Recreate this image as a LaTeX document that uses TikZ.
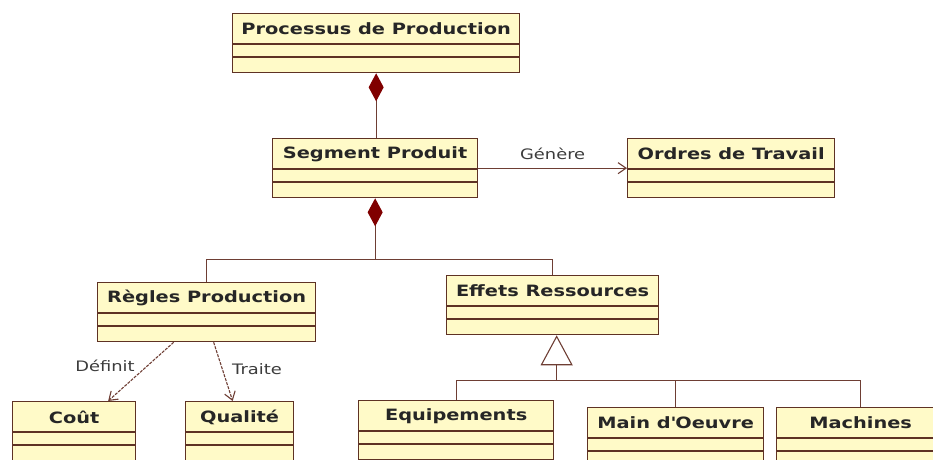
\documentclass[tikz,border=0pt]{standalone}
\usepackage{fontspec}
\setmainfont[FakeStretch=1.24]{DejaVu Sans}
\usetikzlibrary{arrows.meta,calc}

\definecolor{classfill}{RGB}{255,250,200}
\definecolor{classedge}{RGB}{94,50,36}
\definecolor{compred}{RGB}{128,0,0}
\definecolor{linkcol}{RGB}{110,62,52}
\definecolor{labelgray}{RGB}{60,60,60}

\tikzset{
  classbox/.style={draw=classedge, fill=classfill, line width=1.3pt, inner sep=0pt,
    anchor=north west, minimum height=59},
  classtitle/.style={font=\bfseries\fontsize{15.6}{17}\selectfont, text=black!85, inner sep=0pt},
  rowline/.style={draw=classedge, line width=1.2pt},
  link/.style={draw=linkcol, line width=1.1pt},
  dep/.style={link, dash pattern=on 3pt off 1.2pt, -{Straight Barb[length=8pt,width=11pt]}},
  linklabel/.style={font=\fontsize{14.4}{16}\selectfont, text=labelgray, inner sep=1pt},
}

% class box: name, north west corner, width, title
\newcommand{\umlclass}[4]{%
  \node[classbox, minimum width=#3] (#1) at #2 {};
  \node[classtitle] (#1-title) at ($(#1.north)+(0,16)$) {#4};
  \draw[rowline] ($(#1.north west)+(0,31)$) -- ($(#1.north east)+(0,31)$);
  \draw[rowline] ($(#1.north west)+(0,44)$) -- ($(#1.north east)+(0,44)$);
}

\begin{document}
\begin{tikzpicture}[x=1pt, y=-1pt]
  \useasboundingbox (0,0) rectangle (933,459);
  \clip (0,0) rectangle (933,459);

  % classes
  \umlclass{proc}{(232,13)}{287}{Processus de Production}
  \umlclass{seg}{(272,138)}{205}{Segment Produit}
  \umlclass{ordres}{(627,138)}{207}{Ordres de Travail}
  \umlclass{regles}{(97,282)}{218}{Règles Production}
  \umlclass{effets}{(446,275)}{212}{Effets Ressources}
  \umlclass{cout}{(12,401)}{123}{Coût}
  \umlclass{qualite}{(185,401)}{108}{Qualité}
  \umlclass{equip}{(358,400)}{195}{Equipements}
  \umlclass{main}{(587,407)}{176}{Main d\textquotesingle Oeuvre}
  \umlclass{mach}{(776,407)}{168}{Machines}

  % composition
  \draw[link, {Diamond[length=28pt,width=15pt,color=compred]}-] (proc.south) -- (proc.south |- seg.north);
  \draw[link, {Diamond[length=28pt,width=15pt,color=compred]}-] (seg.south) -- ++(0,61) coordinate (segbus);
  \draw[link] (regles.north) |- (segbus) -| (effets.north);

  % association
  \draw[link, -{Straight Barb[length=8pt,width=11pt]}] (seg.east) -- (ordres.west)
    node[linklabel, midway, above=7pt] (genere) {Génère};

  % dependencies
  \draw[dep] ($(regles.south)+(-33,0)$) -- ($(cout.north)+(34,0)$);
  \node[linklabel] (definit) at (105,366) {Définit};
  \draw[dep] ($(regles.south)+(7,0)$) -- ($(qualite.north)+(-7,0)$);
  \node[linklabel] (traite) at (257,369) {Traite};

  % generalisation
  \draw[link, {Triangle[open,length=30pt,width=32pt]}-] ($(effets.south)+(4,0)$) -- ++(0,45) coordinate (genbus);
  \draw[link] (equip.north) |- (genbus) -| (mach.north);
  \draw[link] (main.north) -- (main.north |- genbus);
\end{tikzpicture}
\end{document}
